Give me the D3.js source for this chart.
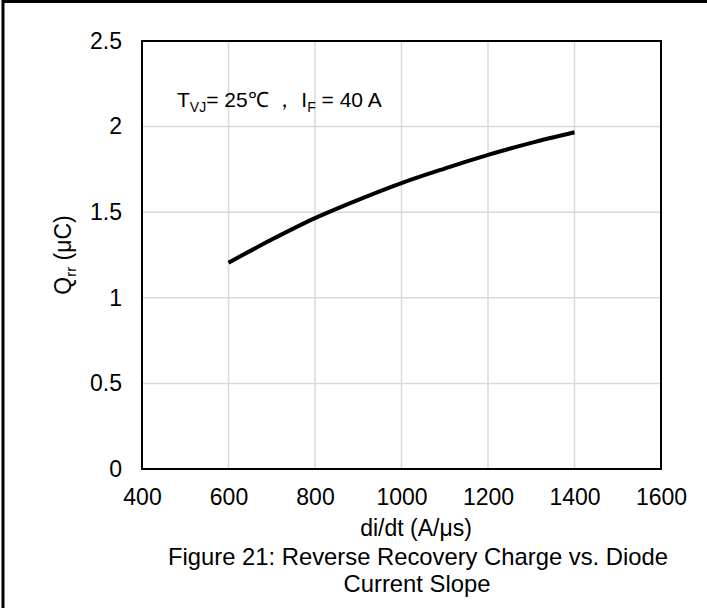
<!DOCTYPE html>
<html>
<head>
<meta charset="utf-8">
<script src="https://cdn.jsdelivr.net/npm/d3@7"></script>
<style>
  body { margin: 0; background: #fff; }
  text { font-family: "Liberation Sans", Arial, sans-serif; fill: #000; }
</style>
</head>
<body>
<div id="vis"></div>
<script>
const width = 707
const height = 608
const margin = {left: 142, top: 41, right: 46, bottom: 139}
const fs = 23

// data
const didt = [600, 700, 800, 900, 1000, 1100, 1200, 1300, 1400]
const qrr = [1.205, 1.34, 1.465, 1.572, 1.67, 1.755, 1.835, 1.905, 1.967]
const xTicks = [400, 600, 800, 1000, 1200, 1400, 1600]
const yTicks = [0, 0.5, 1, 1.5, 2, 2.5]

var svg = d3.select("#vis")
    .append("svg")
    .attr("width", width)
    .attr("height", height)

// outer frame (right and bottom edges fall outside the picture)
svg.append("rect")
    .attr("x", 3).attr("y", 1.5)
    .attr("width", 760).attr("height", 660)
    .attr("fill", "none")
    .attr("stroke", "#000")
    .attr("stroke-width", 3)

var x = d3.scaleLinear().domain([400, 1600]).range([margin.left, width - margin.right])
var y = d3.scaleLinear().domain([0, 2.5]).range([height - margin.bottom, margin.top])

// gridlines
svg.append("g")
    .selectAll("line")
    .data(xTicks.slice(1, -1))
    .join("line")
    .attr("x1", d => x(d)).attr("x2", d => x(d))
    .attr("y1", y(0)).attr("y2", y(2.5))
    .attr("stroke", "#d9d9d9")
    .attr("stroke-width", 1.5)

svg.append("g")
    .selectAll("line")
    .data(yTicks.slice(1, -1))
    .join("line")
    .attr("x1", x(400)).attr("x2", x(1600))
    .attr("y1", d => y(d)).attr("y2", d => y(d))
    .attr("stroke", "#d9d9d9")
    .attr("stroke-width", 1.5)

// axes: labels only, frame drawn as a rect
var xAxis = svg.append("g")
    .attr("transform", `translate(0,${y(0) + 20})`)
    .call(d3.axisBottom(x).tickValues(xTicks).tickFormat(d3.format("")).tickSize(0).tickPadding(0))
xAxis.attr("font-size", fs).attr("font-family", null)
xAxis.select(".domain").remove()

var yAxis = svg.append("g")
    .attr("transform", `translate(${x(400) - 20},0)`)
    .call(d3.axisLeft(y).tickValues(yTicks).tickFormat(d3.format("")).tickSize(0).tickPadding(0))
yAxis.attr("font-size", fs).attr("font-family", null)
yAxis.select(".domain").remove()

svg.append("rect")
    .attr("x", x(400)).attr("y", y(2.5))
    .attr("width", x(1600) - x(400))
    .attr("height", y(0) - y(2.5))
    .attr("fill", "none")
    .attr("stroke", "#000")
    .attr("stroke-width", 2)

// curve
var line = d3.line()
    .x((d, i) => x(didt[i]))
    .y(d => y(d))
    .curve(d3.curveCatmullRom)

svg.append("path")
    .datum(qrr)
    .attr("d", line)
    .attr("fill", "none")
    .attr("stroke", "#000")
    .attr("stroke-width", 4)

// annotation
var ann = svg.append("text")
    .attr("x", 177).attr("y", 107)
    .attr("font-size", "21px")
ann.append("tspan").text("T")
ann.append("tspan").text("VJ").attr("font-size", "14px").attr("dy", 5)
ann.append("tspan").text("= 25℃ ， I").attr("dy", -5)
ann.append("tspan").text("F").attr("font-size", "14px").attr("dy", 5)
ann.append("tspan").text(" = 40 A").attr("dy", -5)

// y label
var yl = svg.append("text")
    .attr("transform", `translate(71,${(y(0) + y(2.5)) / 2}) rotate(-90)`)
    .attr("text-anchor", "middle")
    .attr("font-size", fs + "px")
yl.append("tspan").text("Q")
yl.append("tspan").text("rr").attr("font-size", "15px").attr("dy", 5)
yl.append("tspan").text(" (μC)").attr("dy", -5)

// x label + caption
svg.append("text")
    .attr("x", 416).attr("y", 536)
    .attr("text-anchor", "middle")
    .attr("font-size", fs + "px")
    .text("di/dt (A/μs)")

svg.append("text")
    .attr("x", 418).attr("y", 565)
    .attr("text-anchor", "middle")
    .attr("font-size", "23.8px")
    .text("Figure 21: Reverse Recovery Charge vs. Diode")

svg.append("text")
    .attr("x", 417).attr("y", 592)
    .attr("text-anchor", "middle")
    .attr("font-size", "23.8px")
    .text("Current Slope")
</script>
</body>
</html>
